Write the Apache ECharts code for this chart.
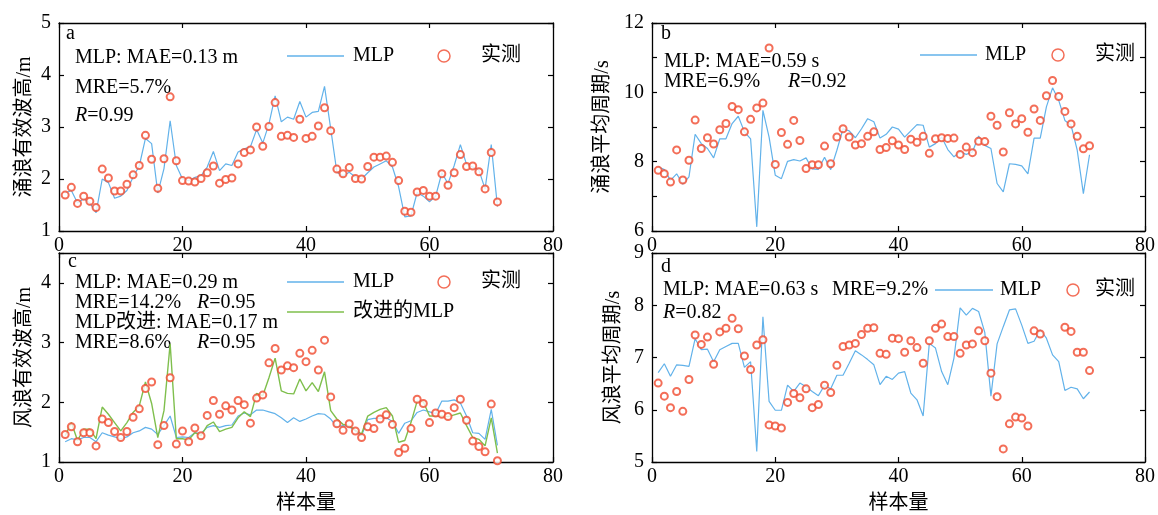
<!DOCTYPE html>
<html>
<head>
<meta charset="utf-8">
<script src="https://cdn.jsdelivr.net/npm/echarts@6/dist/echarts.min.js"></script>
<style>
  html, body { margin: 0; padding: 0; background: #fff; }
  #chart { width: 1158px; height: 515px; }
</style>
</head>
<body>
<div id="chart"></div>
<script>
// a: swell significant wave height (m)
const swhMeasured = [1.69,1.84,1.53,1.67,1.57,1.45,2.19,2.02,1.77,1.77,
  1.90,2.08,2.26,2.84,2.38,1.82,2.39,3.58,2.35,1.97,
  1.96,1.94,2.01,2.12,2.25,1.92,1.99,2.02,2.29,2.51,
  2.56,3.00,2.63,3.01,3.47,2.82,2.84,2.80,3.15,2.78,
  2.82,3.02,3.37,2.93,2.19,2.10,2.22,2.01,2.00,2.24,
  2.42,2.42,2.44,2.32,1.97,1.38,1.36,1.75,1.78,1.67,
  1.67,2.10,1.88,2.12,2.47,2.24,2.25,2.14,1.81,2.51,
  1.56];
const swhMlp = [1.73,1.78,1.54,1.62,1.54,1.35,2.00,1.93,1.63,1.67,
  1.78,2.04,2.25,2.78,2.68,1.73,2.20,3.12,2.26,2.00,
  1.97,2.03,2.06,2.23,2.53,2.16,2.29,2.26,2.52,2.58,
  2.62,2.95,2.69,3.06,3.60,3.10,3.19,3.15,3.49,3.19,
  3.28,3.30,3.78,2.97,2.13,2.06,2.13,2.04,2.00,2.12,
  2.23,2.29,2.35,2.23,1.85,1.27,1.29,1.74,1.67,1.56,
  1.67,2.12,1.91,2.26,2.66,2.28,2.23,2.17,1.81,2.66,
  1.47];

// b: swell mean period (s)
const swpMeasured = [7.75,7.65,7.41,8.34,7.47,8.04,9.20,8.38,8.69,8.51,
  8.92,9.10,9.59,9.50,8.86,9.22,9.55,9.69,11.28,7.92,
  8.84,8.50,9.19,8.61,7.80,7.91,7.91,8.45,7.94,8.71,
  8.95,8.71,8.48,8.52,8.73,8.86,8.35,8.41,8.60,8.48,
  8.35,8.65,8.56,8.73,8.24,8.66,8.69,8.67,8.68,8.21,
  8.42,8.26,8.59,8.58,9.31,9.05,8.28,9.41,9.09,9.24,
  8.85,9.52,9.19,9.90,10.34,9.88,9.45,9.09,8.73,8.37,
  8.46];
const swpMlp = [7.85,7.77,7.46,7.65,7.35,7.56,8.79,8.52,8.38,8.11,
  8.66,8.66,9.10,9.31,8.86,8.66,6.12,9.48,8.71,7.61,
  7.51,8.01,8.06,8.02,8.11,7.79,7.78,8.13,7.77,8.33,
  8.95,8.89,8.69,8.95,9.24,9.15,8.68,8.79,9.00,8.94,
  8.71,8.89,9.07,9.05,8.42,8.52,8.71,8.35,8.14,8.28,
  8.21,8.28,8.74,8.47,8.38,7.37,7.13,7.94,7.92,7.88,
  7.65,8.68,8.68,9.58,10.13,9.77,9.19,9.05,8.33,7.08,
  8.20];

// c: wind-wave significant wave height (m)
const wwhMeasured = [1.46,1.59,1.34,1.49,1.49,1.27,1.72,1.66,1.51,1.41,
  1.51,1.75,1.89,2.23,2.34,1.29,1.61,2.41,1.30,1.52,
  1.34,1.57,1.44,1.78,2.03,1.80,1.94,1.87,2.03,1.96,
  1.65,2.07,2.12,2.66,2.90,2.54,2.61,2.58,2.82,2.68,
  2.87,2.54,3.04,2.09,1.64,1.53,1.64,1.52,1.41,1.59,
  1.56,1.72,1.79,1.63,1.16,1.23,1.56,2.05,1.98,1.66,
  1.82,1.80,1.76,1.91,2.05,1.70,1.35,1.26,1.17,1.97,
  1.02];
const wwhMlp = [1.34,1.39,1.37,1.41,1.41,1.34,1.49,1.45,1.42,1.39,
  1.42,1.49,1.52,1.58,1.55,1.46,1.61,1.77,1.41,1.42,
  1.41,1.49,1.48,1.58,1.61,1.58,1.61,1.62,1.77,1.82,
  1.79,1.87,1.87,1.84,1.81,1.74,1.66,1.74,1.68,1.72,
  1.77,1.81,1.80,1.72,1.59,1.61,1.59,1.52,1.44,1.71,
  1.73,1.73,1.74,1.68,1.48,1.65,1.69,1.83,1.87,1.84,
  1.81,2.02,2.02,2.04,1.99,1.77,1.49,1.48,1.38,1.88,
  1.28];
const wwhImproved = [1.44,1.66,1.36,1.55,1.55,1.39,1.92,1.80,1.66,1.52,
  1.66,1.83,1.94,2.34,1.98,1.41,1.86,2.98,1.39,1.39,
  1.37,1.49,1.44,1.61,1.67,1.51,1.55,1.58,1.74,1.84,
  1.76,2.15,2.11,2.41,2.74,2.19,2.15,2.14,2.39,2.19,
  2.33,2.18,2.51,1.86,1.72,1.63,1.61,1.53,1.47,1.77,
  1.83,1.88,1.91,1.77,1.33,1.36,1.66,2.02,2.01,1.77,
  1.77,1.77,1.76,1.79,1.82,1.61,1.41,1.38,1.27,1.74,
  1.15];

// d: wind-wave mean period (s)
const wwpMeasured = [6.51,6.26,6.04,6.35,5.97,6.58,7.43,7.25,7.39,6.87,
  7.49,7.56,7.75,7.55,7.03,6.77,7.24,7.34,5.71,5.69,
  5.65,6.14,6.31,6.23,6.40,6.04,6.10,6.47,6.33,6.85,
  7.21,7.24,7.27,7.44,7.56,7.57,7.08,7.06,7.37,7.36,
  7.10,7.32,7.19,6.89,7.32,7.56,7.64,7.40,7.40,7.08,
  7.24,7.26,7.51,7.32,6.70,6.25,5.25,5.73,5.86,5.84,
  5.69,7.51,7.45,null,null,null,7.58,7.50,7.10,7.10,
  6.75];
const wwpMlp = [6.71,6.88,6.64,6.86,6.85,6.83,7.36,7.15,7.16,6.92,
  7.15,7.21,7.27,7.27,6.81,6.92,5.20,7.78,6.16,5.99,
  5.99,6.47,6.35,6.51,6.44,6.35,6.27,6.47,6.40,6.66,
  6.66,6.89,7.13,7.05,6.96,6.86,6.48,6.64,6.58,6.70,
  6.73,6.32,6.19,5.88,7.27,7.18,6.73,6.48,6.99,7.95,
  7.81,7.94,7.88,7.48,6.26,7.26,7.59,7.91,7.93,7.62,
  7.27,7.31,7.53,7.37,7.05,6.92,6.37,6.43,6.40,6.21,
  6.34];

const FONT = "'Liberation Serif', 'Noto Sans CJK SC', serif";
const BLUE = '#62b2ea';
const RED = '#f04a2e';
const GREEN = '#7fbf4d';

// sample number = position in the list (1-based)
const toPairs = (arr) => arr.map((v, i) => [i + 1, v]);

const grids = [
  { left: 59, top: 23, width: 494, height: 208 },
  { left: 652, top: 23, width: 496, height: 208 },
  { left: 59, top: 253, width: 494, height: 210 },
  { left: 652, top: 253, width: 496, height: 210 },
];

const yRanges = [
  { min: 1, max: 5, name: '涌浪有效波高/m', gap: 24, fmt: (v) => v },
  { min: 6, max: 12, name: '涌浪平均周期/s', gap: 39, fmt: (v) => (v % 2 === 0 ? v : '') },
  { min: 1, max: 4.5, name: '风浪有效波高/m', gap: 24, fmt: (v) => (Number.isInteger(v) ? v : '') },
  { min: 5, max: 9, name: '风浪平均周期/s', gap: 28, fmt: (v) => v },
];

const axisLine = { lineStyle: { color: '#000', width: 1.3 } };
const axisTick = { inside: true, length: 5, lineStyle: { color: '#000', width: 1.2 } };

const xAxis = [];
const yAxis = [];
grids.forEach((g, k) => {
  xAxis.push({
    gridIndex: k, type: 'value', min: 0, max: 80, interval: 20,
    axisLine: { ...axisLine, onZero: false }, axisTick,
    splitLine: { show: false },
    axisLabel: { fontSize: 20, fontFamily: FONT, color: '#000', margin: 5 },
    name: k >= 2 ? '样本量' : '',
    nameLocation: 'middle', nameGap: 32,
    nameTextStyle: { fontSize: 20, fontFamily: FONT, color: '#000' },
  });
  xAxis.push({
    gridIndex: k, type: 'value', min: 0, max: 80, interval: 20, position: 'top',
    axisLine: { ...axisLine, onZero: false }, axisTick,
    splitLine: { show: false }, axisLabel: { show: false },
  });
  const r = yRanges[k];
  yAxis.push({
    gridIndex: k, type: 'value', min: r.min, max: r.max, interval: 1,
    axisLine: { ...axisLine, onZero: false }, axisTick,
    splitLine: { show: false },
    axisLabel: { fontSize: 20, fontFamily: FONT, color: '#000', margin: 8, formatter: r.fmt },
    name: r.name, nameLocation: 'middle', nameGap: r.gap,
    nameTextStyle: { fontSize: 20, fontFamily: FONT, color: '#000' },
  });
  yAxis.push({
    gridIndex: k, type: 'value', min: r.min, max: r.max, interval: 1, position: 'right',
    axisLine: { ...axisLine, onZero: false }, axisTick,
    splitLine: { show: false }, axisLabel: { show: false },
  });
});

function lineSeries(name, data, k, color, width) {
  return {
    name, type: 'line', data: toPairs(data),
    xAxisIndex: k * 2, yAxisIndex: k * 2,
    symbol: 'none', lineStyle: { color, width },
    itemStyle: { color }, connectNulls: false, z: 2,
  };
}
function scatterSeries(data, k) {
  return {
    name: '实测', type: 'scatter', data: toPairs(data),
    xAxisIndex: k * 2, yAxisIndex: k * 2,
    symbol: 'emptyCircle', symbolSize: 7,
    itemStyle: { color: RED, borderColor: RED, borderWidth: 1.3 }, z: 3,
  };
}

const series = [
  lineSeries('MLP', swhMlp, 0, BLUE, 1.2),
  scatterSeries(swhMeasured, 0),
  lineSeries('MLP', swpMlp, 1, BLUE, 1.2),
  scatterSeries(swpMeasured, 1),
  lineSeries('MLP', wwhMlp, 2, BLUE, 1.2),
  lineSeries('改进的MLP', wwhImproved, 2, GREEN, 1.4),
  scatterSeries(wwhMeasured, 2),
  lineSeries('MLP', wwpMlp, 3, BLUE, 1.2),
  scatterSeries(wwpMeasured, 3),
];

// one legend entry per component so each can sit where the figure has it
function lineLegend(name, left, midY, width, textPad, color) {
  return {
    data: [{ name, icon: 'rect', itemStyle: { color, borderWidth: 0 } }],
    left, top: midY - 10, padding: 0,
    itemWidth: width, itemHeight: 1.4, selectedMode: false,
    textStyle: { fontSize: 20, fontFamily: FONT, color: '#000', lineHeight: 20, padding: [0, 0, 0, textPad] },
  };
}
// the legend box starts at the drawn circle, so left is given from its centre
function circleLegend(cx, midY, width) {
  return {
    data: [{ name: '实测', icon: 'circle', itemStyle: { color: 'rgba(0,0,0,0)', borderColor: RED, borderWidth: 1.5 } }],
    left: cx - 6.75, top: midY - 10, padding: 0,
    itemWidth: width, itemHeight: 12, selectedMode: false,
    textStyle: { fontSize: 20, fontFamily: FONT, color: '#000', lineHeight: 20 },
  };
}

const legend = [
  lineLegend('MLP', 287, 56, 57, 4, BLUE),
  circleLegend(444, 56, 64),
  lineLegend('MLP', 920, 55, 57, 3, BLUE),
  circleLegend(1058, 55, 64),
  lineLegend('MLP', 287, 282, 57, 4, BLUE),
  circleLegend(444, 282, 64),
  lineLegend('改进的MLP', 287, 312, 57, 4, GREEN),
  lineLegend('MLP', 935, 290, 58, 2, BLUE),
  circleLegend(1073, 290, 34),
];

function txt(x, y, text) {
  return {
    type: 'text', x, y,
    style: {
      text, fill: '#000', fontSize: 20, fontFamily: FONT, verticalAlign: 'middle',
      rich: { i: { fontStyle: 'italic', fontSize: 20, fontFamily: FONT, fill: '#000' } },
    },
  };
}

const graphic = [
  txt(66, 34, 'a'),
  txt(75, 58, 'MLP: MAE=0.13 m'),
  txt(75, 88, 'MRE=5.7%'),
  txt(75, 116, '{i|R}=0.99'),

  txt(661, 34, 'b'),
  txt(664, 62, 'MLP: MAE=0.59 s'),
  txt(664, 82, 'MRE=6.9%'),
  txt(788, 82, '{i|R}=0.92'),

  txt(68, 262, 'c'),
  txt(75, 283, 'MLP: MAE=0.29 m'),
  txt(75, 303, 'MRE=14.2%'),
  txt(197, 303, '{i|R}=0.95'),
  txt(75, 323, 'MLP改进: MAE=0.17 m'),
  txt(75, 343, 'MRE=8.6%'),
  txt(197, 343, '{i|R}=0.95'),

  txt(661, 267, 'd'),
  txt(663, 290, 'MLP: MAE=0.63 s'),
  txt(832, 290, 'MRE=9.2%'),
  txt(663, 313, '{i|R}=0.82'),
];

const chart = echarts.init(document.getElementById('chart'));
chart.setOption({
  animation: false,
  backgroundColor: '#fff',
  grid: grids,
  xAxis,
  yAxis,
  legend,
  graphic,
  series,
});
</script>
</body>
</html>
